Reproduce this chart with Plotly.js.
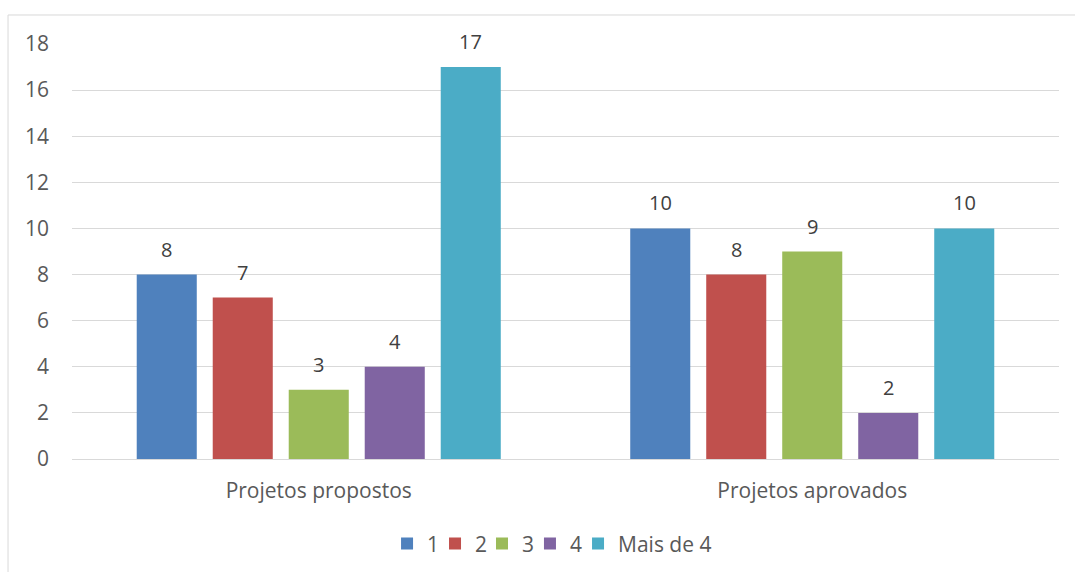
<!DOCTYPE html>
<html>
<head>
<meta charset="utf-8">
<script src="https://cdn.plot.ly/plotly-3.0.1.min.js"></script>
<style>html,body{margin:0;padding:0;background:#fff;}#chart{width:1075px;height:572px;}</style>
</head>
<body>
<div id="chart"></div>
<script>
const categories = ["Projetos propostos", "Projetos aprovados"];
const seriesNames = ["1", "2", "3", "4", "Mais de 4"];
const s1 = [8, 10];
const s2 = [7, 8];
const s3 = [3, 9];
const s4 = [4, 2];
const s5 = [17, 10];
const yTicks = [0, 2, 4, 6, 8, 10, 12, 14, 16, 18];
const colors = ["#4F81BD", "#C0504D", "#9BBB59", "#8064A2", "#4BACC6"];

const allSeries = [s1, s2, s3, s4, s5];
const fontFam = "'Open Sans', sans-serif";
const bargap = 0.23;
const nSeries = allSeries.length;
const slot = (1 - bargap) / nSeries;
const legendX = [0.3192, 0.3678, 0.4154, 0.4640, 0.5127];
const legendIds = allSeries.map((_, i) => i === 0 ? "legend" : "legend" + (i + 1));

const traces = allSeries.map((vals, i) => ({
  type: "bar",
  name: seriesNames[i],
  x: categories,
  y: vals,
  marker: {color: colors[i]},
  legend: legendIds[i],
  hoverinfo: "none"
}));

const annotations = [];
allSeries.forEach((vals, i) => {
  vals.forEach((v, c) => {
    annotations.push({
      xref: "x", yref: "y",
      x: c + (i - (nSeries - 1) / 2) * slot,
      y: v,
      text: String(v),
      showarrow: false,
      yanchor: "bottom",
      yshift: 10,
      font: {family: fontFam, size: 20, color: "#404040"}
    });
  });
});

const legendFont = {family: fontFam, size: 21, color: "#595959"};

const layout = {
  width: 1075, height: 572,
  margin: {l: 72, r: 16, t: 44, b: 113, autoexpand: false},
  barmode: "group",
  bargap: bargap,
  bargroupgap: 0.21,
  paper_bgcolor: "#fff",
  plot_bgcolor: "#fff",
  font: {family: fontFam, size: 21, color: "#595959"},
  showlegend: true,
  xaxis: {
    showgrid: false, showline: false, zeroline: false,
    ticks: "", ticklabelstandoff: 17,
    tickfont: {size: 21, color: "#595959"}
  },
  yaxis: {
    range: [0, 18],
    tickvals: yTicks,
    ticktext: yTicks.map(String),
    showgrid: true, gridcolor: "#D9D9D9", gridwidth: 1,
    zeroline: true, zerolinecolor: "#D9D9D9", zerolinewidth: 1,
    showline: false, ticks: "", ticklabelstandoff: 22,
    tickfont: {size: 21, color: "#595959"}
  },
  annotations: annotations,
  shapes: [{
    type: "rect", xref: "paper", yref: "paper",
    x0: -0.0648, x1: 1.03, y0: -0.3, y1: 1.0699,
    line: {color: "#D9D9D9", width: 1}, fillcolor: "rgba(0,0,0,0)", layer: "below"
  }]
};
legendIds.forEach((id, i) => {
  layout[id] = {
    orientation: "h", x: legendX[i], xanchor: "left", y: -0.155, yanchor: "top",
    font: legendFont, itemwidth: 30, bgcolor: "rgba(0,0,0,0)"
  };
});

Plotly.newPlot("chart", traces, layout, {displayModeBar: false, staticPlot: true});
</script>
</body>
</html>
